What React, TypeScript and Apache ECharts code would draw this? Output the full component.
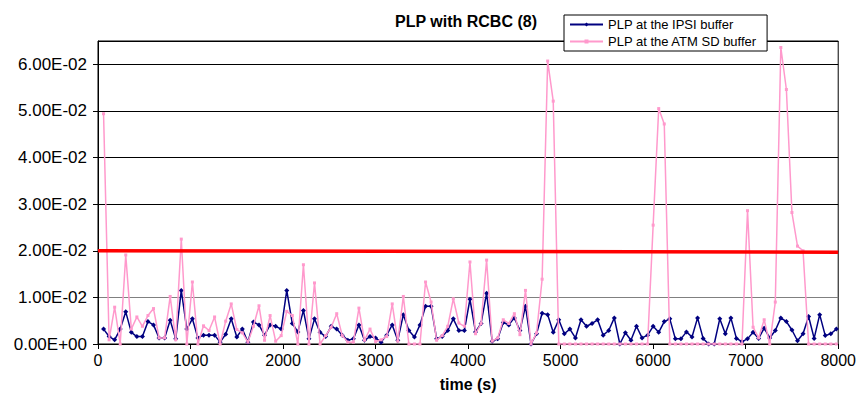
import React, { useEffect, useRef } from "react";
import * as echarts from "echarts";

// Sampling period of both measured series (seconds); sample i is taken at i * step.
const SAMPLE_STEP_S = 60;

// PLP at the IPSI buffer, in units of 1e-3
const ipsiE3 = [
  3.2, 1.6, 0.9, 3.2, 6.9, 2.5, 1.6, 1.6, 4.8, 4.1,
  1.3, 1.3, 5.1, 1.1, 11.5, 3.2, 5.4, 1.3, 1.9, 1.9,
  1.9, 0.4, 2.1, 5.4, 1.5, 3.2, 0.4, 4.7, 4.1, 1.9,
  4.1, 3.8, 3.2, 11.5, 4.4, 2.6, 7.2, 1.1, 5.4, 2.5,
  1.6, 3.8, 3.2, 1.9, 0.8, 1.1, 4.1, 0.8, 1.6, 1.3,
  0.4, 1.9, 4.1, 0.8, 6.3, 2.9, 1.5, 4.1, 8.1, 8.1,
  1.1, 1.6, 2.9, 5.4, 2.9, 2.9, 9.6, 2.6, 4.4, 10.9,
  0.6, 1.1, 4.6, 4.1, 5.6, 2.9, 8.1, 0, 2.2, 6.6,
  6.3, 2.5, 5.2, 2.2, 3.2, 1.3, 5.2, 3.8, 4.4, 5.2,
  1.9, 2.9, 5.6, 0, 2.4, 0.8, 3.8, 1.3, 1.9, 3.8,
  2.5, 4.8, 5.4, 1.1, 1.1, 2.6, 1.5, 5.6, 1.2, 0,
  0, 5.4, 2.2, 5.6, 1.2, 0.5, 1.1, 2.5, 1.2, 3.4,
  1.3, 2.9, 5.6, 4.8, 3.0, 0.7, 2.2, 5.9, 1.2, 6.3,
  1.8, 2.2, 3.2,
];

// PLP at the ATM SD buffer, in units of 1e-3
const atmE3 = [
  49.4, 0.9, 7.9, 0, 19.1, 3.2, 5.8, 3.8, 6.1, 7.6,
  1.3, 1.3, 10.2, 0.9, 22.5, 0, 13.3, 0, 3.9, 2.9,
  5.8, 0, 4.9, 8.6, 3.1, 2.4, 0.4, 3.8, 8.2, 0.8,
  6.1, 0.6, 1.8, 7.0, 6.1, 0, 17.0, 0, 13.1, 0,
  1.8, 3.6, 6.5, 1.8, 0.4, 0.4, 7.7, 0.8, 3.2, 0.5,
  0.9, 1.6, 8.6, 0.6, 10.2, 0, 0, 0, 13.3, 9.0,
  0.8, 1.8, 3.8, 9.7, 4.5, 3.8, 17.6, 2.2, 4.4, 18.0,
  0.6, 1.3, 5.2, 4.4, 6.5, 2.0, 11.5, 0, 2.4, 13.9,
  60.7, 52.1, 0, 0, 0, 0, 0, 0, 0, 0,
  0, 0, 0, 0, 0, 0, 0, 0, 0, 25.5,
  50.5, 47.2, 0, 0, 0, 0, 0, 0, 0, 0,
  0, 0, 0, 0, 0, 0, 28.6, 3.6, 1.3, 5.2,
  0, 9.0, 63.6, 54.6, 28.2, 21.0, 20.0, 0, 0, 0,
  0, 0, 0,
];

// Threshold line (time, value) end points
const thresholdTimes = [0, 8000];
const thresholdValues = [0.02, 0.0197];

const seriesNames = ["PLP at the IPSI buffer", "PLP at the ATM SD buffer"];
const xTicks = { min: 0, max: 8000, interval: 1000 };
const yTicks = { min: 0, max: 0.065, interval: 0.01 };

function sci(v: number): string {
  if (Math.abs(v) < 1e-12) return "0.00E+00";
  const e = Math.floor(Math.log10(Math.abs(v)) + 1e-9);
  const m = v / Math.pow(10, e);
  return m.toFixed(2) + "E" + (e < 0 ? "-" : "+") + String(Math.abs(e)).padStart(2, "0");
}

export default function App() {
  const ref = useRef<HTMLDivElement>(null);
  useEffect(() => {
    if (!ref.current) return;
    const chart = echarts.init(ref.current, undefined, { renderer: "svg" });
    const font = "'Liberation Sans', Arial, sans-serif";
    const ipsiData = ipsiE3.map((v, i) => [(i + 1) * SAMPLE_STEP_S, v / 1000]);
    const atmData = atmE3.map((v, i) => [(i + 1) * SAMPLE_STEP_S, v / 1000]);
    const thrData = thresholdTimes.map((t, i) => [t, thresholdValues[i]]);
    chart.setOption({
      animation: false,
      backgroundColor: "#ffffff",
      textStyle: { fontFamily: font, color: "#000" },
      grid: {
        left: 98,
        top: 41,
        right: 20,
        bottom: 56,
        show: true,
        borderColor: "#000",
        borderWidth: 1,
        backgroundColor: "transparent",
      },
      graphic: [
        {
          type: "text",
          x: 466,
          y: 21,
          style: {
            text: "PLP with RCBC (8)",
            font: `bold 16px ${font}`,
            fill: "#000",
            textAlign: "center",
            textVerticalAlign: "middle",
          },
        },
      ],
      legend: {
        orient: "vertical",
        left: 564,
        top: 15,
        itemWidth: 33,
        itemHeight: 5,
        itemGap: 4,
        padding: [3, 10, 3, 5],
        backgroundColor: "#fff",
        borderColor: "#000",
        borderWidth: 1,
        textStyle: { fontSize: 13, color: "#000", fontFamily: font },
        data: seriesNames,
      },
      xAxis: {
        type: "value",
        min: xTicks.min,
        max: xTicks.max,
        interval: xTicks.interval,
        name: "time (s)",
        nameLocation: "middle",
        nameGap: 32,
        nameTextStyle: { fontSize: 16, fontWeight: "bold", color: "#000", fontFamily: font },
        axisLine: { lineStyle: { color: "#000", width: 1 } },
        axisTick: { show: true, length: 5, lineStyle: { color: "#000" } },
        axisLabel: {
          fontSize: 16,
          color: "#000",
          margin: 8,
          fontFamily: font,
          formatter: (v: number) => String(v),
        },
        splitLine: { show: false },
      },
      yAxis: {
        type: "value",
        min: yTicks.min,
        max: yTicks.max,
        interval: yTicks.interval,
        axisLine: { show: true, lineStyle: { color: "#000", width: 1 } },
        axisTick: { show: true, length: 5, lineStyle: { color: "#000" } },
        axisLabel: {
          fontSize: 17,
          color: "#000",
          margin: 11,
          fontFamily: font,
          showMaxLabel: false,
          formatter: (v: number) => {
            const k = v / yTicks.interval;
            if (Math.abs(k - Math.round(k)) > 1e-6) return "";
            return sci(v);
          },
        },
        splitLine: {
          show: true,
          lineStyle: { color: ["#000", "#808080", "#000", "#000", "#000", "#000", "#000", "#000"], width: 1 },
        },
      },
      series: [
        {
          name: seriesNames[0],
          type: "line",
          data: ipsiData,
          symbol: "diamond",
          symbolSize: 5,
          color: "#000080",
          lineStyle: { color: "#000080", width: 1.5 },
          itemStyle: { color: "#000080" },
          z: 2,
        },
        {
          name: seriesNames[1],
          type: "line",
          data: atmData,
          symbol: "rect",
          symbolSize: 3,
          color: "#ff99cc",
          lineStyle: { color: "#ff99cc", width: 1.5 },
          itemStyle: { color: "#ff99cc" },
          z: 3,
        },
        {
          name: "threshold",
          type: "line",
          data: thrData,
          symbol: "none",
          color: "#ff0000",
          lineStyle: { color: "#ff0000", width: 3.5 },
          silent: true,
          z: 4,
        },
      ],
    });
    return () => chart.dispose();
  }, []);
  return (
    <div
      ref={ref}
      style={{ position: "fixed", left: 0, top: 0, width: 859, height: 400, background: "#fff" }}
    />
  );
}
